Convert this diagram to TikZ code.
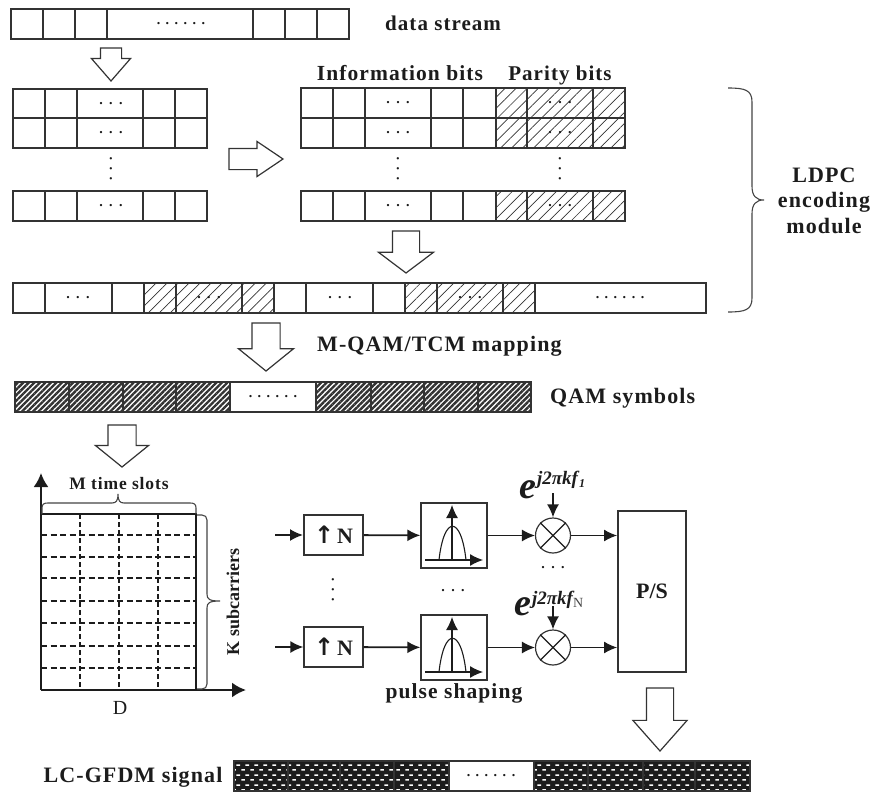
\documentclass[tikz,border=0pt]{standalone}
\usepackage{xcolor}
\usepackage{fontspec}
\setmainfont{Liberation Serif}
\newfontfamily\lblfont[LetterSpace=5]{Liberation Serif}
\newfontfamily\arrfont{DejaVu Sans}
\usepackage{tikz}
\usetikzlibrary{arrows.meta,positioning,calc,patterns,patterns.meta,shapes.arrows}
\definecolor{cInk}{HTML}{1C1C1C}
\definecolor{cLine}{HTML}{333333}
\definecolor{cBrace}{HTML}{444444}
\newcommand{\dotsix}{.\kern5.5pt.\kern5.5pt.\kern5.5pt.\kern5.5pt.\kern5.5pt.}
\newcommand{\dothree}{.\kern6.5pt.\kern6.5pt.}
\pgfdeclarepatternformonly{gfdmdash}{\pgfqpoint{0pt}{0pt}}{\pgfqpoint{8.6pt}{10pt}}{\pgfqpoint{8.6pt}{10pt}}{
  \pgfpathrectangle{\pgfqpoint{0.3pt}{1.5pt}}{\pgfqpoint{3.7pt}{1.7pt}}
  \pgfpathrectangle{\pgfqpoint{4.6pt}{6.5pt}}{\pgfqpoint{3.7pt}{1.7pt}}
  \pgfusepath{fill}}
\tikzset{
  cell/.style={draw=cLine,line width=1.2pt,fill=white},
  hcell/.style={draw=cLine,line width=1.2pt,pattern={Lines[angle=45,distance=7.8pt,line width=0.7pt]},pattern color=cLine},
  qcell/.style={draw=cLine,line width=1.2pt,pattern={Lines[angle=45,distance=3.9pt,line width=2.4pt]},pattern color=cLine},
  gcell/.style={draw=cLine,line width=1.2pt,preaction={fill=cInk},pattern=gfdmdash,pattern color=white},
  dotsl/.style={font=\fontsize{14}{14}\selectfont\bfseries,inner sep=0pt,text=cInk},
  lbl/.style={font=\lblfont\fontsize{#1}{#1}\selectfont\bfseries,text=cInk,inner sep=0pt,align=center},
  lbl/.default=21,
  harr/.style n args={4}{single arrow,draw=cLine,fill=white,line width=1.2pt,inner sep=0pt,outer sep=0pt,anchor=tip,
    minimum height=#1,text height=#3,text depth=0pt,single arrow head extend={(#2-#3)/2},single arrow tip angle=#4},
  ubox/.style={draw=cLine,line width=#1,fill=white,minimum width=59pt,minimum height=40pt,inner sep=0pt,text=cInk,font=\fontsize{22}{22}\selectfont\bfseries},
  pbox/.style={draw=cLine,line width=1.3pt,fill=white,minimum width=66pt,minimum height=65pt,inner sep=0pt},
  mixr/.style={circle,draw=cLine,line width=1.2pt,fill=white,minimum size=35pt,inner sep=0pt},
  arr/.style={-{Latex[length=13pt,width=12pt]},line width=#1,color=cInk},
  arr/.default=1.2pt,
  axs/.style={-{Latex[length=14pt,width=15pt]},line width=2.4pt,color=cInk},
  brc/.style={draw=cBrace,line width=1.1pt},
}
\begin{document}
\begin{tikzpicture}[x=1pt,y=-1pt]
  \useasboundingbox (0,0) rectangle (873,792);
  % data stream row
  \foreach \xa/\xb in {11/43,43/75,75/107,107/253,253/285,285/317,317/349}
    \draw[cell] (\xa,9) rectangle (\xb,39);
  \node[dotsl] (dstream) at (181,24) {\dotsix};
  \node[lbl=21,anchor=base west] (tstream) at (385,31) {data stream};
  \node[harr={33}{38}{20}{82},rotate=-90] (a1) at (111,81) {};
  % left block
  \foreach \ya/\yb in {89/118,118/148,191/221}{
    \foreach \xa/\xb in {13/45,45/77,77/143,143/175,175/207}
      \draw[cell] (\xa,\ya) rectangle (\xb,\yb);
    \node[dotsl] (l\ya) at (111,{(\ya+\yb)/2}) {\dothree};
  }
  \node[dotsl,rotate=90] (lv) at (111,169) {\dothree};
  \node[harr={54}{34}{20}{68}] (a2) at (283,159) {};
  % right block, information bits then parity bits
  \node[lbl=21.5,anchor=base] (tinfo) at (400,81) {Information bits};
  \node[lbl=21,anchor=base] (tpar) at (560,81) {Parity bits};
  \foreach \ya/\yb in {88/118,118/148,191/221}{
    \foreach \xa/\xb in {301/333,333/365,365/431,431/463,463/496}
      \draw[cell] (\xa,\ya) rectangle (\xb,\yb);
    \foreach \xa/\xb in {496/527,527/593,593/625}
      \draw[hcell] (\xa,\ya) rectangle (\xb,\yb);
    \node[dotsl] (ri\ya) at (398,{(\ya+\yb)/2}) {\dothree};
    \node[dotsl] (rp\ya) at (560,{(\ya+\yb)/2}) {\dothree};
  }
  \node[dotsl,rotate=90] (riv) at (398,169) {\dothree};
  \node[dotsl,rotate=90] (rpv) at (560,169) {\dothree};
  \node[harr={42}{54}{26}{106},rotate=-90] (a3) at (406,273) {};
  % interleaved row
  \foreach \xa/\xb in {13/45,45/112,112/144,242/274,274/306,306/373,373/405,503/535,535/706}
    \draw[cell] (\xa,283) rectangle (\xb,313);
  \foreach \xa/\xb in {144/176,176/242,242/274,405/437,437/503,503/535}
    \draw[hcell] (\xa,283) rectangle (\xb,313);
  \foreach \i/\xa in {1/78,2/209,3/340,4/470}
    \node[dotsl] (m\i) at (\xa,298) {\dothree};
  \node[dotsl] (m5) at (620,298) {\dotsix};
  \draw[brc] (728,88) .. controls (745,88) and (752,90) .. (752,102) -- (752,186)
    .. controls (752,196) and (756,200) .. (764,200) .. controls (756,200) and (752,204) .. (752,214)
    -- (752,298) .. controls (752,310) and (745,312) .. (728,312);
  \node[lbl=22,anchor=base] (tldpc) at (824,182) {LDPC};
  \node[lbl=22,anchor=base] (tenc) at (824,207) {encoding};
  \node[lbl=22,anchor=base] (tmod) at (824,233) {module};
  \node[harr={48}{54}{27}{102},rotate=-90] (a4) at (266,371) {};
  \node[lbl=22,anchor=base west] (tmap) at (317,351.5) {M-QAM/TCM mapping};
  % QAM symbols
  \foreach \xa/\xb in {15/69,69/123,123/176,176/230,316/371,371/424,424/478,478/531}
    \draw[qcell] (\xa,382) rectangle (\xb,412);
  \draw[cell] (230,382) rectangle (316,412);
  \node[dotsl] (q1) at (273,397) {\dotsix};
  \node[lbl=22,anchor=base west] (tqam) at (550,403) {QAM symbols};
  \node[harr={42}{52}{27}{102},rotate=-90] (a5) at (122,467) {};
  % time-frequency grid
  \coordinate (org) at (41,690);
  \coordinate (ytop) at (41,473);
  \coordinate (xend) at (246,690);
  \foreach \xa in {80,119,158}
    \draw[cInk,line width=1.1pt,dash pattern=on 5pt off 3pt] (\xa,514) -- (\xa,690);
  \foreach \ya in {535,557,578,601,623,646,668}
    \draw[cInk,line width=1.1pt,dash pattern=on 6pt off 3.5pt] (41,\ya) -- (196,\ya);
  \draw[cInk,line width=1.1pt] (41,514) -- (196,514) -- (196,690);
  \draw[axs] (org) -- (ytop);
  \draw[axs] (org) -- (xend);
  \draw[brc] (42,514) -- (42,508) .. controls (42,504) and (44,503) .. (48,503) -- (112,503)
    .. controls (116,503) and (118,501) .. (118,494) .. controls (118,501) and (120,503) .. (124,503)
    -- (190,503) .. controls (194,503) and (196,504) .. (196,508) -- (196,514);
  \draw[brc] (197,515) -- (202,515) .. controls (205,515) and (207,517) .. (207,520) -- (207,594)
    .. controls (207,599) and (209,601) .. (220,601) .. controls (209,601) and (207,603) .. (207,608)
    -- (207,684) .. controls (207,687) and (205,689) .. (202,689) -- (197,689);
  \node[lbl=17.5,anchor=base] (tslot) at (119,489.5) {M time slots};
  \node[font=\fontsize{18}{18}\selectfont\bfseries,text=cInk,inner sep=0pt,rotate=90] (tsub) at (233,602) {K subcarriers};
  \node[font=\fontsize{20}{20}\selectfont,text=cInk,inner sep=0pt] (tD) at (120,708) {D};
  % branches
  \coordinate (in1) at (275,535);
  \coordinate (in2) at (275,647);
  \node[ubox=2pt] (up1) at (333.5,535) {{\arrfont\fontsize{24}{24}\selectfont\bfseries ↑}\kern3pt N};
  \node[ubox=1.2pt] (up2) at (333.5,647) {{\arrfont\fontsize{24}{24}\selectfont\bfseries ↑}\kern3pt N};
  \foreach \nm/\dy in {1/0,2/112}{
    \begin{scope}[shift={(0,\dy)}]
      \node[pbox] (pul\nm) at (454,535.5) {};
      \draw[arr] (425,560) -- (483,560);
      \draw[arr] (452,560) -- (452,505);
      \draw[cInk,line width=1.1pt] (439,560) .. controls (444,515) and (461,515) .. (466,560);
    \end{scope}
    \node[mixr] (mix\nm) at (553,{535.5+\dy}) {};
    \draw[cInk,line width=1.2pt] (mix\nm.45) -- (mix\nm.225) (mix\nm.135) -- (mix\nm.315);
  }
  \node[draw=cLine,line width=2pt,fill=white,minimum width=68pt,minimum height=161pt,inner sep=0pt,font=\fontsize{22}{22}\selectfont\bfseries,text=cInk] (ps) at (652,591.5) {P/S};
  \foreach \nm in {1,2}{
    \draw[arr=1.8pt] (in\nm) -- (up\nm);
    \draw[arr=1.8pt] (up\nm) -- (pul\nm);
    \draw[arr] (pul\nm) -- (mix\nm);
    \draw[arr] (mix\nm) -- (mix\nm -| ps.west);
  }
  \coordinate (ph1) at (553,493);
  \coordinate (ph2) at (553,606);
  \draw[arr=1.8pt] (ph1) -- (mix1);
  \draw[arr=1.8pt] (ph2) -- (mix2);
  \node[anchor=base west,inner sep=0pt,text=cInk,font=\bfseries\itshape] (exp1) at (519,498)
    {\fontsize{38}{38}\selectfont e\kern1pt\raisebox{14pt}{\fontsize{19}{19}\selectfont j2πkf\kern1pt\raisebox{-3pt}{\fontsize{12}{12}\selectfont 1}}};
  \node[anchor=base west,inner sep=0pt,text=cInk,font=\bfseries\itshape] (exp2) at (514,615)
    {\fontsize{38}{38}\selectfont e\kern1pt\raisebox{11pt}{\fontsize{19}{19}\selectfont j2πkf\raisebox{-3pt}{\fontsize{14}{14}\selectfont\upshape\mdseries\color{cBrace} N}}};
  \node[dotsl,rotate=90] (dv) at (333,590) {\dothree};
  \node[dotsl] (dh1) at (453,591) {\dothree};
  \node[dotsl] (dh2) at (553,568) {\dothree};
  \node[lbl=21.5,anchor=base] (tpulse) at (454,698) {pulse shaping};
  \node[harr={63}{53}{26}{83},rotate=-90] (a6) at (660,751) {};
  % LC-GFDM signal
  \foreach \xa/\xb in {234/288,288/340,340/394,394/449,534/588,588/643,643/695,695/750}
    \draw[gcell] (\xa,761) rectangle (\xb,791);
  \draw[cell] (449,761) rectangle (534,791);
  \node[dotsl] (g1) at (491,776) {\dotsix};
  \node[lbl=22,anchor=base] (tgfdm) at (133,782) {LC-GFDM signal};
\end{tikzpicture}
\end{document}
